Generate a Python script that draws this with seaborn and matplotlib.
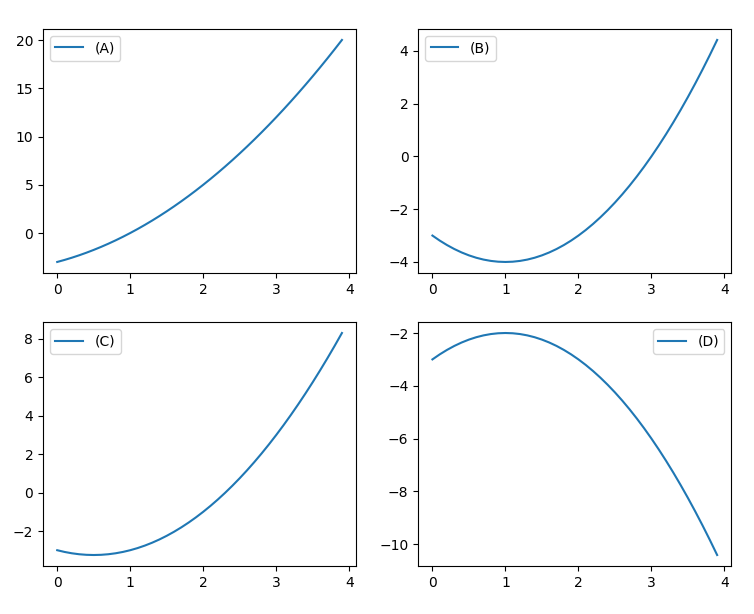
import seaborn as sns
import matplotlib.pyplot as plt

# x 값 (0.0 ~ 3.9)
x = [0.0, 0.1, 0.2, 0.3, 0.4, 0.5, 0.6, 0.7, 0.8, 0.9,
     1.0, 1.1, 1.2, 1.3, 1.4, 1.5, 1.6, 1.7, 1.8, 1.9,
     2.0, 2.1, 2.2, 2.3, 2.4, 2.5, 2.6, 2.7, 2.8, 2.9,
     3.0, 3.1, 3.2, 3.3, 3.4, 3.5, 3.6, 3.7, 3.8, 3.9]

# 각 서브플롯의 y 값
y_a = [-3.00, -2.79, -2.56, -2.31, -2.04, -1.75, -1.44, -1.11, -0.76, -0.39,
       0.00, 0.41, 0.84, 1.29, 1.76, 2.25, 2.76, 3.29, 3.84, 4.41,
       5.00, 5.61, 6.24, 6.89, 7.56, 8.25, 8.96, 9.69, 10.44, 11.21,
       12.00, 12.81, 13.64, 14.49, 15.36, 16.25, 17.16, 18.09, 19.04, 20.01]

y_b = [-3.00, -3.19, -3.36, -3.51, -3.64, -3.75, -3.84, -3.91, -3.96, -3.99,
       -4.00, -3.99, -3.96, -3.91, -3.84, -3.75, -3.64, -3.51, -3.36, -3.19,
       -3.00, -2.79, -2.56, -2.31, -2.04, -1.75, -1.44, -1.11, -0.76, -0.39,
       0.00, 0.41, 0.84, 1.29, 1.76, 2.25, 2.76, 3.29, 3.84, 4.41]

y_c = [-3.00, -3.09, -3.16, -3.21, -3.24, -3.25, -3.24, -3.21, -3.16, -3.09,
       -3.00, -2.89, -2.76, -2.61, -2.44, -2.25, -2.04, -1.81, -1.56, -1.29,
       -1.00, -0.69, -0.36, -0.01, 0.36, 0.75, 1.16, 1.59, 2.04, 2.51,
       3.00, 3.51, 4.04, 4.59, 5.16, 5.75, 6.36, 6.99, 7.64, 8.31]

y_d = [-3.00, -2.81, -2.64, -2.49, -2.36, -2.25, -2.16, -2.09, -2.04, -2.01,
       -2.00, -2.01, -2.04, -2.09, -2.16, -2.25, -2.36, -2.49, -2.64, -2.81,
       -3.00, -3.21, -3.44, -3.69, -3.96, -4.25, -4.56, -4.89, -5.24, -5.61,
       -6.00, -6.41, -6.84, -7.29, -7.76, -8.25, -8.76, -9.29, -9.84, -10.41]

labels = ['(A)', '(B)', '(C)', '(D)']

fig, axes = plt.subplots(2, 2, figsize=(7.54, 6.14), dpi=100)
for ax, y, lab in zip(axes.flat, [y_a, y_b, y_c, y_d], labels):
    sns.lineplot(x=x, y=y, ax=ax, label=lab)
    ax.legend(loc='best')

plt.subplots_adjust(left=0.057, right=0.97, top=0.953, bottom=0.078,
                    wspace=0.198, hspace=0.2)
plt.savefig('out.png')
